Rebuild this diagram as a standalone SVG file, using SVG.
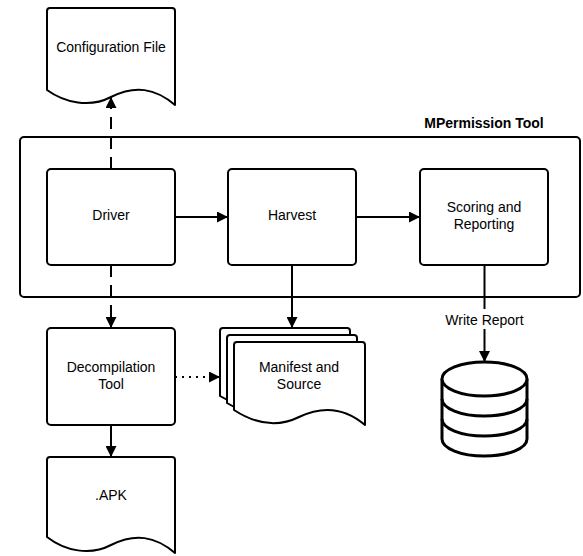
<svg xmlns="http://www.w3.org/2000/svg" width="583" height="556" viewBox="0 0 583 556">
<style>
.s{fill:#fff;stroke:#000;stroke-width:2;stroke-linejoin:round}
.t{font-family:"Liberation Sans",Arial,sans-serif;font-size:14px;fill:#000;text-anchor:middle}
.b{font-weight:bold}
.c{fill:none;stroke:#000;stroke-width:2}
.d{fill:#fff;stroke:#000;stroke-width:3}
.dl{fill:none;stroke:#000;stroke-width:3}
</style>
<defs>
<marker id="a" viewBox="0 0 10 10" refX="10" refY="5" markerWidth="5.5" markerHeight="5.5" orient="auto" markerUnits="strokeWidth"><path d="M0,0 L10,5 L0,10 z" fill="#000"/></marker>
</defs>
<rect width="583" height="556" fill="#fff"/>
<g id="mpermission-tool">
<rect class="s" x="20" y="137" width="560" height="160" rx="4"/>
<text class="t b" x="484" y="128">MPermission Tool</text>
</g>
<g id="configuration-file">
<path class="s" d="M47,90 L47,11 Q47,8 50,8 L172,8 Q175,8 175,11 L175,105 C155,88 135,85 111,97 C90,108 65,103 47,90 Z"/>
<text class="t" x="111" y="52">Configuration File</text>
</g>
<g id="driver">
<rect class="s" x="47" y="169" width="128" height="96" rx="4"/>
<text class="t" x="111" y="220">Driver</text>
</g>
<g id="harvest">
<rect class="s" x="228" y="169" width="128" height="96" rx="4"/>
<text class="t" x="292" y="220">Harvest</text>
</g>
<g id="scoring">
<rect class="s" x="420" y="169" width="128" height="96" rx="4"/>
<text class="t" x="484" y="212">Scoring and</text>
<text class="t" x="484" y="229">Reporting</text>
</g>
<g id="decompilation-tool">
<rect class="s" x="47" y="328" width="128" height="97" rx="4"/>
<text class="t" x="111" y="372">Decompilation</text>
<text class="t" x="111" y="389">Tool</text>
</g>
<g id="apk">
<path class="s" d="M47,537 L47,460 Q47,457 50,457 L172,457 Q175,457 175,460 L175,553 C155,536 135,533 111,545 C90,556 65,551 47,537 Z"/>
<text class="t" x="111" y="500">.APK</text>
</g>
<g id="manifest-and-source">
<path class="s" d="M220,396 L220,331 Q220,328 223,328 L347,328 Q350,328 350,331 L350,410 C330,393 310,390 285,402 C263,413 240,408 220,396 Z"/>
<path class="s" d="M227,403 L227,338 Q227,335 230,335 L354,335 Q357,335 357,338 L357,417 C337,400 317,397 292,409 C270,420 247,415 227,403 Z"/>
<path class="s" d="M234,410 L234,345 Q234,342 237,342 L362,342 Q365,342 365,345 L365,425 C345,408 324,405 299,417 C277,428 254,423 234,410 Z"/>
<text class="t" x="299" y="372">Manifest and</text>
<text class="t" x="299" y="389">Source</text>
</g>
<g id="database">
<path class="d" d="M442,379 L442,439 A42.5,17 0 0 0 527,439 L527,379"/>
<ellipse class="d" cx="484.5" cy="379" rx="42.5" ry="17"/>
<path class="dl" d="M442,399 A42.5,17 0 0 0 527,399 M442,419 A42.5,17 0 0 0 527,419"/>
</g>
<g id="connectors">
<line class="c" x1="111" y1="169" x2="111" y2="97" stroke-dasharray="12,8" marker-end="url(#a)"/>
<line class="c" x1="111" y1="265" x2="111" y2="328" stroke-dasharray="12,8" marker-end="url(#a)"/>
<line class="c" x1="175" y1="217" x2="228" y2="217" marker-end="url(#a)"/>
<line class="c" x1="356" y1="217" x2="420" y2="217" marker-end="url(#a)"/>
<line class="c" x1="292" y1="265" x2="292" y2="328" marker-end="url(#a)"/>
<line class="c" x1="111" y1="425" x2="111" y2="457" marker-end="url(#a)"/>
<line class="c" x1="175" y1="377" x2="220" y2="377" stroke-dasharray="2,5" marker-end="url(#a)"/>
<line class="c" x1="484.5" y1="265" x2="484.5" y2="309"/>
<line class="c" x1="484.5" y1="329" x2="484.5" y2="362" marker-end="url(#a)"/>
<text class="t" x="484.5" y="325">Write Report</text>
</g>
</svg>
